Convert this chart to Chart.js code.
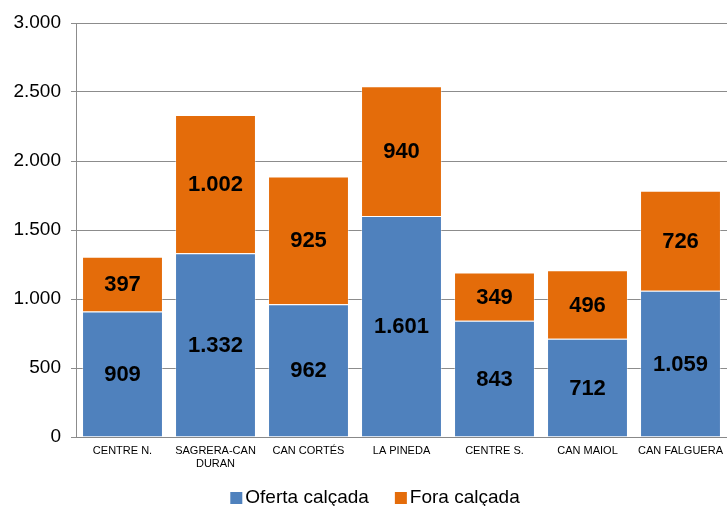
<!DOCTYPE html>
<html>
<head>
<meta charset="utf-8">
<script src="https://cdn.jsdelivr.net/npm/chart.js@4/dist/chart.umd.min.js"></script>
<style>
  html, body { margin: 0; padding: 0; background: #fff; }
  #wrap { width: 727px; height: 506px; }
</style>
</head>
<body>
<div id="wrap"><canvas id="barres"></canvas></div>
<script>
var barris = [['CENTRE N.'], ['SAGRERA-CAN', 'DURAN'], ['CAN CORTÉS'], ['LA PINEDA'], ['CENTRE S.'], ['CAN MAIOL'], ['CAN FALGUERA']];
var ofertaCalcada = [909, 1332, 962, 1601, 843, 712, 1059];
var foraCalcada = [397, 1002, 925, 940, 349, 496, 726];
var yMax = 3000;
var yStep = 500;

var FONT = '"Liberation Sans", Arial, sans-serif';

// 1332 -> "1.332"
function ambPunts(v) {
  return String(Math.round(v)).replace(/\B(?=(\d{3})+(?!\d))/g, '.');
}

// numeros al centre de cada tram
var etiquetes = {
  id: 'etiquetes',
  afterDatasetsDraw: function (chart) {
    var ctx = chart.ctx;
    ctx.save();
    ctx.font = 'bold 22px ' + FONT;
    ctx.fillStyle = '#000';
    ctx.textAlign = 'center';
    ctx.textBaseline = 'middle';
    chart.data.datasets.forEach(function (ds, i) {
      chart.getDatasetMeta(i).data.forEach(function (bar, j) {
        var p = bar.getProps(['x', 'y', 'base'], true);
        ctx.fillText(ambPunts(ds.data[j]), p.x, (p.y + p.base) / 2 + 1);
      });
    });
    ctx.restore();
  }
};

// llegenda a baix, quadret enganxat al text
var llegenda = {
  id: 'llegenda',
  afterDraw: function (chart) {
    var ctx = chart.ctx;
    var quadre = 12, sep = 3, entre = 26;
    var centreX = 375, y = 498;
    ctx.save();
    ctx.font = '19px ' + FONT;
    ctx.textBaseline = 'middle';
    ctx.textAlign = 'left';
    var dss = chart.data.datasets;
    var total = 0;
    dss.forEach(function (ds, i) {
      total += quadre + sep + ctx.measureText(ds.label).width;
      if (i > 0) total += entre;
    });
    var x = centreX - total / 2;
    dss.forEach(function (ds) {
      ctx.fillStyle = ds.backgroundColor;
      ctx.fillRect(x, y - quadre / 2, quadre, quadre);
      x += quadre + sep;
      ctx.fillStyle = '#000';
      ctx.fillText(ds.label, x, y);
      x += ctx.measureText(ds.label).width + entre;
    });
    ctx.restore();
  }
};

var ctx = document.getElementById('barres');
var grafic = new Chart(ctx, {
  type: 'bar',
  data: {
    labels: barris,
    datasets: [
      {
        label: 'Oferta calçada',
        data: ofertaCalcada,
        backgroundColor: '#4F81BD',
        borderColor: 'rgba(255,255,255,0.35)',
        borderWidth: 1,
        categoryPercentage: 1,
        barPercentage: 0.87
      },
      {
        label: 'Fora calçada',
        data: foraCalcada,
        backgroundColor: '#E46C0A',
        borderColor: 'rgba(255,255,255,0.35)',
        borderWidth: 1,
        categoryPercentage: 1,
        barPercentage: 0.87
      }
    ]
  },
  options: {
    responsive: true,
    maintainAspectRatio: false,
    animation: false,
    layout: { padding: { top: 23, right: 0, left: 0, bottom: 23 } },
    plugins: {
      tooltip: { enabled: false },
      legend: { display: false }
    },
    scales: {
      x: {
        stacked: true,
        grid: { display: false, drawTicks: false },
        border: { color: '#888', width: 1 },
        ticks: {
          color: '#000',
          maxRotation: 0,
          autoSkip: false,
          padding: 7,
          font: { family: FONT, size: 11 }
        },
        afterFit: function (s) {
          s.height = 46;
          s.paddingLeft = 0;
          s.paddingRight = 0;
        }
      },
      y: {
        stacked: true,
        min: 0,
        max: yMax,
        grid: { color: '#8c8c8c', lineWidth: 1, tickLength: 5 },
        border: { color: '#8c8c8c', width: 1 },
        ticks: {
          stepSize: yStep,
          color: '#000',
          padding: 10,
          font: { family: FONT, size: 19 },
          callback: function (v) { return ambPunts(v); }
        },
        afterFit: function (s) { s.width = 76; }
      }
    }
  },
  plugins: [etiquetes, llegenda]
});
</script>
</body>
</html>
